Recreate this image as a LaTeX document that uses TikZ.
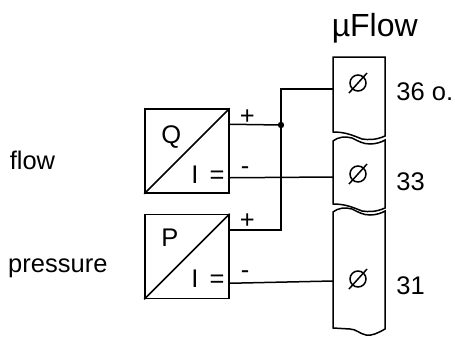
\documentclass[tikz,border=0pt]{standalone}
\usepackage{fontspec}
\setmainfont{Liberation Sans}
\usetikzlibrary{positioning}
\newcommand\cutbottom[1]{-- (385,#1+4) .. controls (376,#1+8) and (369,#1+8) .. (362,#1+7) .. controls (352,#1+3) and (345,#1) .. (333,#1)}
\newcommand\cuttop[1]{(333,#1) .. controls (338,#1-4) and (345,#1-5) .. (352,#1-3) .. controls (358,#1) and (363,#1+3) .. (370,#1+3) .. controls (376,#1+3) and (382,#1+1) .. (385,#1-1)}
\begin{document}
\begin{tikzpicture}[x=1pt, y=-1pt, line width=1.5pt,
  every node/.style={font=\fontsize{25.5}{30}\selectfont, inner sep=0pt, anchor=base west},
  conv/.style={draw, anchor=center, minimum size=84pt},
  screw/.style={draw, circle, anchor=center, minimum size=16pt}]
\useasboundingbox (0,0) rectangle (455,338);
\node [conv] (Q) at (187,151) {};
\node [conv, below=20pt of Q] (P) {};
\draw (Q.south west) -- (Q.north east);
\draw (P.south west) -- (P.north east);
\node (qlab) at (160.5,143) {Q};
\node (qout) at (190.5,183.3) {I\, =};
\node (plab) at (160.5,246.3) {P};
\node (pout) at (190.5,287.3) {I\, =};
\node (flow) at (9,169) {flow};
\node (pres) at (7.5,272) {pressure};
\node [font=\fontsize{32}{36}\selectfont] (dev) at (331,36.5) {µFlow};
\draw (333,132) -- (333,57) -- (385,57) \cutbottom{132} -- cycle;
\draw \cuttop{141} \cutbottom{204} -- cycle;
\draw \cuttop{212} -- (385,329) .. controls (378,333) and (372,336) .. (366,335) .. controls (360,334) and (356,329) .. (350,329) -- (333,328) -- cycle;
\foreach \n/\y/\lab/\b in {36/83/36 o./100, 33/174/33/190, 31/279/31/294.5} {
  \node [screw] (s\n) at (358,\y) {};
  \draw ([shift={(-9,10)}]s\n.center) -- ([shift={(9,-10)}]s\n.center);
  \node (l\n) at (395.7,\b) {\lab};
}
\coordinate (t36) at (333,89);
\coordinate (t33) at (333,177);
\coordinate (t31) at (333,281);
\coordinate (j) at (281,125);
\draw ([yshift=-16pt]Q.north east) -- (j);
\draw ([yshift=-16pt]P.north east) -| (j) |- (t36);
\draw ([yshift=16pt]Q.south east) -- (t33);
\draw ([yshift=16pt]P.south east) -- (t31);
\fill (j) circle [radius=3.2pt];
\node (qp) at (239,124.5) {+};
\node (qm) at (240,174) {-};
\node (pp) at (239,228) {+};
\node (pm) at (240,278) {-};
\end{tikzpicture}
\end{document}
